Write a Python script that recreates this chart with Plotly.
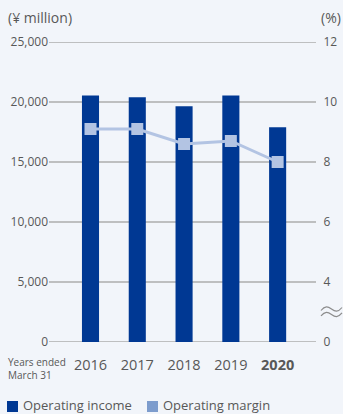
import plotly.graph_objects as go

# Fiscal years (ended March 31)
years = ["2016", "2017", "2018", "2019", "2020"]
year_labels = ["2016", "2017", "2018", "2019", "<b>2020</b>"]

# Operating income (¥ million) and operating margin (%)
operating_income = [20550, 20400, 19650, 20550, 17900]
operating_margin = [9.1, 9.1, 8.6, 8.7, 8.0]

# Axis ticks
income_ticks = [0, 5000, 10000, 15000, 20000, 25000]
margin_ticks = [2, 4, 6, 8, 10, 12]          # lower end is shown as 0 (broken axis)
margin_ticktext = ["0", "4", "6", "8", "10", "12"]

BAR = "#003893"
LINE = "#b3c4e3"
LEGEND_MARGIN = "#7d9ccd"
TEXT = "#585858"
GRID = "#adadad"
BG = "#f2f5fa"
FONT = "Open Sans"
CLEAR = "rgba(0,0,0,0)"

W, H = 343, 414
L, R, T, B = 49, 27, 42, 72
PW, PH = W - L - R, H - T - B


def px(x):
    return (x - L) / PW


def py(y):
    return (H - B - y) / PH


fig = go.Figure()

fig.add_trace(go.Bar(
    x=years, y=operating_income, width=0.365,
    marker=dict(color=BAR, line=dict(width=0)),
    name="Operating income", showlegend=False,
))

fig.add_trace(go.Scatter(
    x=years, y=operating_margin, yaxis="y2", mode="lines+markers",
    line=dict(color=LINE, width=3),
    marker=dict(symbol="square", size=12, color=LINE),
    name="Operating margin", showlegend=False,
))

fig.update_layout(
    width=W, height=H,
    margin=dict(l=L, r=R, t=T, b=B, pad=0, autoexpand=False),
    paper_bgcolor=BG, plot_bgcolor=BG,
    font=dict(family=FONT, color=TEXT, size=12),
    xaxis=dict(
        type="category", range=[-0.887, 4.82], automargin=False,
        tickvals=years, ticktext=year_labels,
        tickfont=dict(size=14.5, color=TEXT),
        showgrid=False, zeroline=False, showline=False,
        ticks="outside", ticklen=10, tickcolor=CLEAR,
    ),
    yaxis=dict(
        range=[0, 25000], tickvals=income_ticks, automargin=False,
        tickformat=",d", tickfont=dict(size=12, color=TEXT),
        showgrid=False, zeroline=False, showline=False, ticks="",
    ),
    yaxis2=dict(
        range=[2, 12], overlaying="y", side="right", automargin=False,
        tickvals=margin_ticks, ticktext=margin_ticktext,
        tickfont=dict(size=12, color=TEXT),
        showgrid=False, zeroline=False, showline=False,
        ticks="outside", ticklen=4, tickcolor=CLEAR,
    ),
)

# Horizontal grid lines at each income tick, spanning the plot width
for v in income_ticks:
    fig.add_shape(type="line", xref="paper", yref="y", x0=0, x1=1, y0=v, y1=v,
                  line=dict(color=GRID, width=1.3), layer="below")

annotations = [
    dict(text="(¥ million)", x=px(6), y=py(18), xanchor="left", yanchor="middle",
         font=dict(size=14, color=TEXT)),
    dict(text="(%)", x=px(343), y=py(18), xanchor="right", yanchor="middle",
         font=dict(size=14, color=TEXT)),
    dict(text="Years ended<br>March 31", x=px(6), y=py(368), xanchor="left",
         yanchor="middle", align="left", font=dict(size=10, color=TEXT)),
    dict(text="Operating income", x=px(21), y=py(405), xanchor="left",
         yanchor="middle", font=dict(size=13, color=TEXT)),
    dict(text="Operating margin", x=px(161), y=py(405), xanchor="left",
         yanchor="middle", font=dict(size=13, color=TEXT)),
]
for a in annotations:
    a.update(xref="paper", yref="paper", showarrow=False)
fig.update_layout(annotations=annotations)


def wave(y0):
    pts = [(321, y0 + 1.5), (325, y0 - 3.5), (328, y0 - 2.5), (331.5, y0),
           (335, y0 + 2.5), (338, y0 + 3.5), (342, y0 - 1.5)]
    p = [f"{px(x):.5f},{py(y):.5f}" for x, y in pts]
    return f"M {p[0]} C {p[1]} {p[2]} {p[3]} C {p[4]} {p[5]} {p[6]}"


# Axis-break mark on the right scale
for yc in (309, 314.5):
    fig.add_shape(type="path", xref="paper", yref="paper", path=wave(yc),
                  line=dict(color="#8c8c8c", width=1.2))

fig.add_shape(type="rect", xref="paper", yref="paper",
              x0=px(7), x1=px(18), y0=py(412), y1=py(401),
              fillcolor=BAR, line=dict(width=0))
fig.add_shape(type="rect", xref="paper", yref="paper",
              x0=px(147), x1=px(158), y0=py(412), y1=py(401),
              fillcolor=LEGEND_MARGIN, line=dict(width=0))

fig.write_html("out.html")
